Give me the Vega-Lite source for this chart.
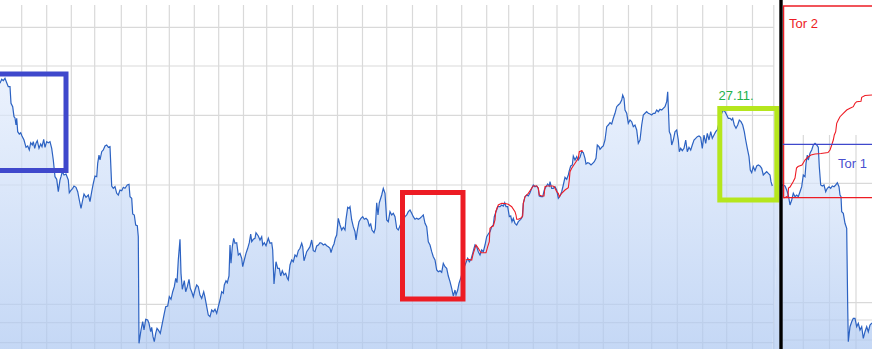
{
  "$schema": "https://vega.github.io/schema/vega-lite/v6.json",
  "width": 872,
  "height": 349,
  "autosize": "none",
  "padding": 0,
  "background": "white",
  "config": {"view": {"stroke": null}},
  "datasets": {
    "grid": [
      {"x":21.7,"x2":21.7,"y":0,"y2":344},{"x":46.7,"x2":46.7,"y":0,"y2":344},{"x":71.3,"x2":71.3,"y":0,"y2":344},{"x":94.7,"x2":94.7,"y":0,"y2":344},
      {"x":121.3,"x2":121.3,"y":0,"y2":344},{"x":146.5,"x2":146.5,"y":0,"y2":344},{"x":169.3,"x2":169.3,"y":0,"y2":344},{"x":194.3,"x2":194.3,"y":0,"y2":344},
      {"x":218.7,"x2":218.7,"y":0,"y2":344},{"x":243.5,"x2":243.5,"y":0,"y2":344},{"x":266.7,"x2":266.7,"y":0,"y2":344},{"x":292.5,"x2":292.5,"y":0,"y2":344},
      {"x":313.3,"x2":313.3,"y":0,"y2":344},{"x":337.5,"x2":337.5,"y":0,"y2":344},{"x":362.5,"x2":362.5,"y":0,"y2":344},{"x":386.7,"x2":386.7,"y":0,"y2":344},
      {"x":412.5,"x2":412.5,"y":0,"y2":344},{"x":436.7,"x2":436.7,"y":0,"y2":344},{"x":461.7,"x2":461.7,"y":0,"y2":344},{"x":486.7,"x2":486.7,"y":0,"y2":344},
      {"x":508.7,"x2":508.7,"y":0,"y2":344},{"x":533.3,"x2":533.3,"y":0,"y2":344},{"x":557,"x2":557,"y":0,"y2":344},{"x":579,"x2":579,"y":0,"y2":344},
      {"x":603.3,"x2":603.3,"y":0,"y2":344},{"x":628.5,"x2":628.5,"y":0,"y2":344},{"x":651.7,"x2":651.7,"y":0,"y2":344},{"x":677.3,"x2":677.3,"y":0,"y2":344},
      {"x":702.7,"x2":702.7,"y":0,"y2":344},{"x":726.7,"x2":726.7,"y":0,"y2":344},{"x":752.5,"x2":752.5,"y":0,"y2":344},{"x":773.8,"x2":773.8,"y":0,"y2":344},
      {"x":0,"x2":774,"y":321.7,"y2":321.7},{"x":0,"x2":774,"y":283,"y2":283},{"x":0,"x2":774,"y":233.7,"y2":233.7},{"x":0,"x2":774,"y":164,"y2":164},
      {"x":0,"x2":774,"y":44.7,"y2":44.7},{"x":0,"x2":774,"y":26.3,"y2":26.3},{"x":0,"x2":774,"y":6.3,"y2":6.3},
      {"x":803.3,"x2":803.3,"y":0,"y2":214},{"x":829.5,"x2":829.5,"y":0,"y2":214},{"x":856,"x2":856,"y":0,"y2":214},
      {"x":783,"x2":872,"y":165.7,"y2":165.7},{"x":783,"x2":872,"y":46.3,"y2":46.3},{"x":783,"x2":872,"y":29,"y2":29},{"x":783,"x2":872,"y":9,"y2":9}
    ],
    "px": [
      {"s":"a","t":0,"v":265.7},{"s":"a","t":1.7,"v":269.7},{"s":"a","t":3.3,"v":268.3},{"s":"a","t":5,"v":270.7},{"s":"a","t":6.7,"v":266.3},{"s":"a","t":8.3,"v":262.3},{"s":"a","t":10,"v":262.3},{"s":"a","t":11,"v":245.7},{"s":"a","t":12.7,"v":242.3},{"s":"a","t":14,"v":232.3},
      {"s":"a","t":15,"v":231},{"s":"a","t":16,"v":224},{"s":"a","t":16.7,"v":230.7},{"s":"a","t":17.7,"v":217.3},{"s":"a","t":19.3,"v":215},{"s":"a","t":20.7,"v":216.3},{"s":"a","t":22,"v":213},{"s":"a","t":24,"v":209},{"s":"a","t":26,"v":201.7},{"s":"a","t":27.7,"v":203},
      {"s":"a","t":29.3,"v":199},{"s":"a","t":30.7,"v":206.3},{"s":"a","t":32.3,"v":204},{"s":"a","t":33.3,"v":207.3},{"s":"a","t":34.7,"v":200.7},{"s":"a","t":36,"v":205.7},{"s":"a","t":37.3,"v":208.3},{"s":"a","t":39,"v":200.7},{"s":"a","t":40.7,"v":205},{"s":"a","t":42,"v":202.3},
      {"s":"a","t":43.7,"v":209.7},{"s":"a","t":45,"v":201.7},{"s":"a","t":46.7,"v":207.3},{"s":"a","t":48.3,"v":206.3},{"s":"a","t":50,"v":207.3},{"s":"a","t":51.7,"v":200.7},{"s":"a","t":53.3,"v":189},{"s":"a","t":55,"v":172.3},{"s":"a","t":56.7,"v":169.7},{"s":"a","t":58.3,"v":157.3},
      {"s":"a","t":60,"v":169},{"s":"a","t":61,"v":172.3},{"s":"a","t":62.3,"v":177.3},{"s":"a","t":64,"v":174},{"s":"a","t":66,"v":175},{"s":"a","t":68.3,"v":169},{"s":"a","t":69.3,"v":156.3},{"s":"a","t":70.7,"v":158.3},{"s":"a","t":72.7,"v":160.7},{"s":"a","t":74,"v":163},
      {"s":"a","t":76,"v":161.7},{"s":"a","t":77.7,"v":157.3},{"s":"a","t":79.3,"v":149},{"s":"a","t":81,"v":140.7},{"s":"a","t":82.7,"v":149},{"s":"a","t":84,"v":155},{"s":"a","t":86,"v":151.7},{"s":"a","t":88.3,"v":154},{"s":"a","t":90,"v":147.3},{"s":"a","t":91.7,"v":157.3},
      {"s":"a","t":93.3,"v":165.7},{"s":"a","t":95,"v":173},{"s":"a","t":96.7,"v":172.3},{"s":"a","t":97.7,"v":185.7},{"s":"a","t":99,"v":194},{"s":"a","t":100,"v":189},{"s":"a","t":101.7,"v":197.3},{"s":"a","t":103.3,"v":199},{"s":"a","t":105,"v":203},{"s":"a","t":106.7,"v":204},
      {"s":"a","t":108.3,"v":201.7},{"s":"a","t":110,"v":202.3},{"s":"a","t":111.7,"v":163},{"s":"a","t":113.3,"v":160.7},{"s":"a","t":115,"v":162.3},{"s":"a","t":116.7,"v":155.7},{"s":"a","t":118.3,"v":154},{"s":"a","t":120,"v":159},{"s":"a","t":121.7,"v":158.3},{"s":"a","t":123.3,"v":161.7},
      {"s":"a","t":125,"v":160.7},{"s":"a","t":127.3,"v":164},{"s":"a","t":129,"v":164.7},{"s":"a","t":130,"v":152.3},{"s":"a","t":131.7,"v":150.7},{"s":"a","t":132.7,"v":135},{"s":"a","t":134.3,"v":134},{"s":"a","t":135.7,"v":124},{"s":"a","t":137.3,"v":123.3},{"s":"a","t":138.3,"v":112.3},
      {"s":"a","t":139,"v":5.7},{"s":"a","t":141,"v":19},{"s":"a","t":142.7,"v":27.3},{"s":"a","t":144,"v":19},{"s":"a","t":145.7,"v":29.7},{"s":"a","t":147.7,"v":29},{"s":"a","t":149,"v":25.7},{"s":"a","t":150.7,"v":17.3},{"s":"a","t":151.7,"v":21.7},{"s":"a","t":153,"v":12.3},
      {"s":"a","t":154.3,"v":7.3},{"s":"a","t":155.7,"v":15.7},{"s":"a","t":157,"v":20.7},{"s":"a","t":158.7,"v":18.3},{"s":"a","t":160.3,"v":15.7},{"s":"a","t":162.3,"v":25.7},{"s":"a","t":164.3,"v":35.7},{"s":"a","t":165.7,"v":42.3},{"s":"a","t":167.7,"v":43},{"s":"a","t":169.3,"v":52.3},
      {"s":"a","t":171,"v":49.7},{"s":"a","t":172.7,"v":57.3},{"s":"a","t":174.3,"v":62.3},{"s":"a","t":175.7,"v":70.7},{"s":"a","t":177,"v":66.3},{"s":"a","t":178.3,"v":89},{"s":"a","t":180,"v":109.7},{"s":"a","t":181,"v":75.7},{"s":"a","t":182.3,"v":59.7},{"s":"a","t":184.3,"v":68.3},
      {"s":"a","t":185.7,"v":57.3},{"s":"a","t":187.3,"v":62.3},{"s":"a","t":189,"v":69.7},{"s":"a","t":190.3,"v":60.7},{"s":"a","t":191.7,"v":57.3},{"s":"a","t":193.3,"v":52.3},{"s":"a","t":195,"v":59},{"s":"a","t":196.7,"v":64},{"s":"a","t":198.3,"v":62.3},{"s":"a","t":200,"v":54},
      {"s":"a","t":201.7,"v":50.7},{"s":"a","t":203.7,"v":57.3},{"s":"a","t":205,"v":51.7},{"s":"a","t":206.7,"v":42.3},{"s":"a","t":208.3,"v":34},{"s":"a","t":210,"v":32.3},{"s":"a","t":211.7,"v":39},{"s":"a","t":213.3,"v":37.3},{"s":"a","t":215,"v":39.7},{"s":"a","t":216.7,"v":35.7},
      {"s":"a","t":218.3,"v":42.3},{"s":"a","t":220,"v":49},{"s":"a","t":221.7,"v":57.3},{"s":"a","t":223.3,"v":55.7},{"s":"a","t":224.3,"v":64},{"s":"a","t":226,"v":68.3},{"s":"a","t":227.3,"v":66.3},{"s":"a","t":229,"v":73},{"s":"a","t":230,"v":104},{"s":"a","t":231,"v":85.7},
      {"s":"a","t":232.3,"v":102.3},{"s":"a","t":233.7,"v":110.7},{"s":"a","t":235,"v":105.7},{"s":"a","t":236.7,"v":106.3},{"s":"a","t":238.3,"v":94},{"s":"a","t":240,"v":95.7},{"s":"a","t":241.7,"v":90.7},{"s":"a","t":242.7,"v":82.3},{"s":"a","t":244.3,"v":89},{"s":"a","t":246,"v":95.7},
      {"s":"a","t":247.7,"v":100.7},{"s":"a","t":249.3,"v":106.3},{"s":"a","t":250.7,"v":115},{"s":"a","t":251.7,"v":107.3},{"s":"a","t":253.3,"v":109.7},{"s":"a","t":255,"v":110.7},{"s":"a","t":256,"v":116.3},{"s":"a","t":258.3,"v":113},{"s":"a","t":260,"v":109},{"s":"a","t":261.7,"v":112.3},
      {"s":"a","t":262.7,"v":104},{"s":"a","t":264.3,"v":106.3},{"s":"a","t":266,"v":103.3},{"s":"a","t":268.3,"v":110.7},{"s":"a","t":270,"v":105.7},{"s":"a","t":271.7,"v":106.3},{"s":"a","t":272.7,"v":99},{"s":"a","t":274,"v":65},{"s":"a","t":276,"v":87.3},{"s":"a","t":277.7,"v":80.7},
      {"s":"a","t":279.3,"v":80.7},{"s":"a","t":280.7,"v":73},{"s":"a","t":282.3,"v":78.3},{"s":"a","t":284,"v":74},{"s":"a","t":285.7,"v":75.7},{"s":"a","t":287.3,"v":70.7},{"s":"a","t":288.3,"v":69},{"s":"a","t":290,"v":84},{"s":"a","t":291.7,"v":89},{"s":"a","t":293.3,"v":87.3},
      {"s":"a","t":295,"v":94},{"s":"a","t":296.7,"v":92.3},{"s":"a","t":298.3,"v":98.3},{"s":"a","t":300,"v":100.7},{"s":"a","t":301.7,"v":105.7},{"s":"a","t":302.7,"v":102.3},{"s":"a","t":304,"v":88.3},{"s":"a","t":305.3,"v":92.3},{"s":"a","t":306.7,"v":97.3},{"s":"a","t":308.3,"v":99.7},
      {"s":"a","t":310,"v":102.3},{"s":"a","t":311.7,"v":109},{"s":"a","t":313.3,"v":98.3},{"s":"a","t":315,"v":97.3},{"s":"a","t":316.7,"v":103},{"s":"a","t":318.3,"v":104},{"s":"a","t":320,"v":106.3},{"s":"a","t":321.7,"v":105.7},{"s":"a","t":323.3,"v":104},{"s":"a","t":325,"v":105},
      {"s":"a","t":326.7,"v":103.3},{"s":"a","t":328.3,"v":102.3},{"s":"a","t":330,"v":100.7},{"s":"a","t":331,"v":96.3},{"s":"a","t":332.7,"v":102.3},{"s":"a","t":334,"v":105},{"s":"a","t":335.3,"v":110.7},{"s":"a","t":336.7,"v":114},{"s":"a","t":338.3,"v":130.7},{"s":"a","t":340,"v":124},
      {"s":"a","t":341.7,"v":119},{"s":"a","t":343.3,"v":121.7},{"s":"a","t":345,"v":119},{"s":"a","t":346,"v":129.7},{"s":"a","t":347.7,"v":141.7},{"s":"a","t":349,"v":140.7},{"s":"a","t":350,"v":142.3},{"s":"a","t":351.7,"v":129},{"s":"a","t":353.3,"v":122.3},{"s":"a","t":355,"v":117.3},
      {"s":"a","t":356,"v":109},{"s":"a","t":357.3,"v":118.3},{"s":"a","t":359,"v":127.3},{"s":"a","t":361,"v":130.7},{"s":"a","t":362.7,"v":132.3},{"s":"a","t":364.3,"v":129.7},{"s":"a","t":366,"v":130.7},{"s":"a","t":367.7,"v":129},{"s":"a","t":369.3,"v":123},{"s":"a","t":370.7,"v":125},
      {"s":"a","t":372,"v":119},{"s":"a","t":374,"v":116.3},{"s":"a","t":375.3,"v":120.7},{"s":"a","t":376.7,"v":146.3},{"s":"a","t":378,"v":134},{"s":"a","t":379.3,"v":146.3},{"s":"a","t":381.7,"v":154},{"s":"a","t":383.3,"v":160.7},{"s":"a","t":385,"v":155.7},{"s":"a","t":386.7,"v":129},
      {"s":"a","t":388.3,"v":127.3},{"s":"a","t":390,"v":137.3},{"s":"a","t":391.7,"v":134},{"s":"a","t":393.3,"v":135.7},{"s":"a","t":395,"v":132.3},{"s":"a","t":396.7,"v":120.7},{"s":"a","t":398.3,"v":119},{"s":"a","t":401.5,"v":127},{"s":"a","t":405,"v":132.3},{"s":"a","t":406.7,"v":134},
      {"s":"a","t":408.3,"v":137.3},{"s":"a","t":410,"v":139},{"s":"a","t":411.7,"v":135.7},{"s":"a","t":413.3,"v":132.3},{"s":"a","t":415,"v":129.7},{"s":"a","t":416.7,"v":130.7},{"s":"a","t":418.3,"v":129.7},{"s":"a","t":420,"v":130.7},{"s":"a","t":421.7,"v":132.3},{"s":"a","t":423.3,"v":134},
      {"s":"a","t":425,"v":125.7},{"s":"a","t":426.7,"v":122.3},{"s":"a","t":428.3,"v":107.3},{"s":"a","t":430,"v":104},{"s":"a","t":431.7,"v":97.3},{"s":"a","t":433.3,"v":92.3},{"s":"a","t":435,"v":89},{"s":"a","t":436.7,"v":79},{"s":"a","t":438.3,"v":77.3},{"s":"a","t":440,"v":78.3},
      {"s":"a","t":441.7,"v":76.7},{"s":"a","t":443.3,"v":85.7},{"s":"a","t":445,"v":82.3},{"s":"a","t":446.7,"v":80.7},{"s":"a","t":448.3,"v":73},{"s":"a","t":450,"v":67.3},{"s":"a","t":451.7,"v":60.7},{"s":"a","t":453.3,"v":53},{"s":"a","t":455,"v":59},{"s":"a","t":456,"v":54},
      {"s":"a","t":457.7,"v":59},{"s":"a","t":459,"v":65.7},{"s":"a","t":460.7,"v":70.7},{"s":"a","t":463,"v":79},{"s":"a","t":465.7,"v":85.7},{"s":"a","t":467.7,"v":90.7},{"s":"a","t":469.3,"v":87.3},{"s":"a","t":471,"v":89.7},{"s":"a","t":472.7,"v":95.7},{"s":"a","t":474,"v":100.7},
      {"s":"a","t":475,"v":104},{"s":"a","t":476.7,"v":102.3},{"s":"a","t":478.3,"v":97.3},{"s":"a","t":480,"v":94},{"s":"a","t":481.7,"v":99},{"s":"a","t":483.3,"v":97.3},{"s":"a","t":485,"v":104},{"s":"a","t":486.7,"v":112.3},{"s":"a","t":488.3,"v":115},{"s":"a","t":490,"v":117.3},
      {"s":"a","t":491.7,"v":122.3},{"s":"a","t":493.3,"v":124},{"s":"a","t":494.3,"v":132.3},{"s":"a","t":496,"v":137.3},{"s":"a","t":497.7,"v":142.3},{"s":"a","t":500,"v":142.3},{"s":"a","t":501.7,"v":144},{"s":"a","t":503.3,"v":143},{"s":"a","t":504.7,"v":146.3},{"s":"a","t":506,"v":142.3},
      {"s":"a","t":507.7,"v":142.3},{"s":"a","t":509.3,"v":132.3},{"s":"a","t":510.7,"v":133},{"s":"a","t":512,"v":127.3},{"s":"a","t":513.3,"v":130.7},{"s":"a","t":515,"v":125.7},{"s":"a","t":516.7,"v":124},{"s":"a","t":518.3,"v":127.3},{"s":"a","t":520.7,"v":129.7},{"s":"a","t":522.3,"v":132.3},
      {"s":"a","t":523.3,"v":145.7},{"s":"a","t":525,"v":152.3},{"s":"a","t":526.7,"v":154},{"s":"a","t":528.3,"v":153},{"s":"a","t":530,"v":156.3},{"s":"a","t":531.7,"v":160.7},{"s":"a","t":533.3,"v":164},{"s":"a","t":535,"v":162.3},{"s":"a","t":536.7,"v":163},{"s":"a","t":538.3,"v":160.7},
      {"s":"a","t":539.3,"v":153},{"s":"a","t":541,"v":152.3},{"s":"a","t":542.7,"v":152.3},{"s":"a","t":544.3,"v":159},{"s":"a","t":546,"v":162.3},{"s":"a","t":547.7,"v":165},{"s":"a","t":549.3,"v":163},{"s":"a","t":550,"v":167.3},{"s":"a","t":551.7,"v":160.7},{"s":"a","t":553.3,"v":160.7},
      {"s":"a","t":555,"v":162.3},{"s":"a","t":556.7,"v":159},{"s":"a","t":558.3,"v":150.7},{"s":"a","t":560,"v":153},{"s":"a","t":561.7,"v":157.3},{"s":"a","t":563.3,"v":164},{"s":"a","t":565,"v":171.7},{"s":"a","t":566.7,"v":169.7},{"s":"a","t":568.3,"v":174},{"s":"a","t":569.3,"v":178.3},
      {"s":"a","t":570.7,"v":183},{"s":"a","t":572.3,"v":184},{"s":"a","t":573.3,"v":193},{"s":"a","t":575,"v":189},{"s":"a","t":576.7,"v":192.3},{"s":"a","t":578.3,"v":189},{"s":"a","t":580,"v":191.7},{"s":"a","t":581.7,"v":197.3},{"s":"a","t":583.3,"v":196.3},{"s":"a","t":585,"v":190.7},
      {"s":"a","t":586,"v":185},{"s":"a","t":587.7,"v":186.3},{"s":"a","t":589.3,"v":185.7},{"s":"a","t":591,"v":184},{"s":"a","t":592.7,"v":185.7},{"s":"a","t":594.3,"v":187.3},{"s":"a","t":596,"v":190.7},{"s":"a","t":597.3,"v":204},{"s":"a","t":599,"v":202.3},{"s":"a","t":600,"v":199.7},
      {"s":"a","t":601.7,"v":201.7},{"s":"a","t":603.3,"v":203},{"s":"a","t":605,"v":209},{"s":"a","t":606.7,"v":222.3},{"s":"a","t":608.3,"v":224},{"s":"a","t":610,"v":226.3},{"s":"a","t":611.7,"v":225},{"s":"a","t":613.3,"v":230.7},{"s":"a","t":615,"v":235.7},{"s":"a","t":616.7,"v":242.3},
      {"s":"a","t":618.3,"v":244},{"s":"a","t":620,"v":245.7},{"s":"a","t":621.7,"v":249},{"s":"a","t":622.7,"v":254},{"s":"a","t":624,"v":250.7},{"s":"a","t":625,"v":239},{"s":"a","t":626.7,"v":235.7},{"s":"a","t":628.3,"v":225.7},{"s":"a","t":630,"v":229},{"s":"a","t":631.7,"v":227.3},
      {"s":"a","t":633.3,"v":222.3},{"s":"a","t":635,"v":224},{"s":"a","t":636.7,"v":219},{"s":"a","t":638.3,"v":205.7},{"s":"a","t":640,"v":209},{"s":"a","t":641.7,"v":224},{"s":"a","t":643.3,"v":234},{"s":"a","t":645,"v":235.7},{"s":"a","t":646.7,"v":237.3},{"s":"a","t":648.3,"v":235.7},
      {"s":"a","t":650,"v":235},{"s":"a","t":651.7,"v":234},{"s":"a","t":653.3,"v":235.7},{"s":"a","t":655,"v":235.7},{"s":"a","t":656.7,"v":239},{"s":"a","t":658.3,"v":237.3},{"s":"a","t":660,"v":239.7},{"s":"a","t":661.7,"v":239},{"s":"a","t":663.3,"v":240.7},{"s":"a","t":665,"v":242.3},
      {"s":"a","t":666.7,"v":247.3},{"s":"a","t":667.7,"v":257.3},{"s":"a","t":668.3,"v":242.3},{"s":"a","t":669.3,"v":217.3},{"s":"a","t":670.7,"v":214},{"s":"a","t":671.7,"v":204},{"s":"a","t":673.3,"v":209},{"s":"a","t":675,"v":217.3},{"s":"a","t":676.7,"v":219},{"s":"a","t":678.3,"v":209},
      {"s":"a","t":679.3,"v":197.3},{"s":"a","t":680.7,"v":200.7},{"s":"a","t":682.3,"v":198.3},{"s":"a","t":684,"v":200.7},{"s":"a","t":685.7,"v":209},{"s":"a","t":687.3,"v":197.3},{"s":"a","t":689,"v":201.7},{"s":"a","t":690.7,"v":199},{"s":"a","t":692.3,"v":204},{"s":"a","t":694,"v":209},
      {"s":"a","t":695.7,"v":210.7},{"s":"a","t":697.3,"v":212.3},{"s":"a","t":699,"v":213},{"s":"a","t":700.7,"v":211.7},{"s":"a","t":702.3,"v":200.7},{"s":"a","t":704,"v":214},{"s":"a","t":705.7,"v":205.7},{"s":"a","t":707.3,"v":215.7},{"s":"a","t":709,"v":209},{"s":"a","t":710.7,"v":217.3},
      {"s":"a","t":712.3,"v":210.7},{"s":"a","t":714,"v":214},{"s":"a","t":715.7,"v":217.3},{"s":"a","t":717.3,"v":219},{"s":"a","t":719.5,"v":228},{"s":"a","t":721.7,"v":235.7},{"s":"a","t":723.3,"v":239},{"s":"a","t":725,"v":237.3},{"s":"a","t":726.7,"v":234},{"s":"a","t":728.3,"v":230.7},
      {"s":"a","t":730,"v":230.7},{"s":"a","t":731.7,"v":229},{"s":"a","t":732.7,"v":230.7},{"s":"a","t":734.3,"v":224},{"s":"a","t":736,"v":220.7},{"s":"a","t":737.7,"v":224},{"s":"a","t":739.3,"v":229},{"s":"a","t":741,"v":227.3},{"s":"a","t":742.7,"v":224},{"s":"a","t":744.3,"v":217.3},
      {"s":"a","t":745.7,"v":209},{"s":"a","t":747.3,"v":200.7},{"s":"a","t":749,"v":192.3},{"s":"a","t":750.3,"v":179},{"s":"a","t":751.7,"v":176.3},{"s":"a","t":753.3,"v":182.3},{"s":"a","t":755,"v":178.3},{"s":"a","t":756.7,"v":183},{"s":"a","t":758.3,"v":184},{"s":"a","t":760,"v":183},
      {"s":"a","t":761.7,"v":180.7},{"s":"a","t":763.3,"v":174},{"s":"a","t":765,"v":175.7},{"s":"a","t":766.7,"v":177.3},{"s":"a","t":768.3,"v":175.7},{"s":"a","t":770,"v":174},{"s":"a","t":771,"v":167.3},{"s":"a","t":772.3,"v":163},
      {"s":"b","t":780,"v":164},{"s":"b","t":783.3,"v":164},{"s":"b","t":785,"v":163},{"s":"b","t":786.7,"v":159},{"s":"b","t":788.3,"v":154},{"s":"b","t":790,"v":144},{"s":"b","t":791.7,"v":149},{"s":"b","t":793.3,"v":155.7},{"s":"b","t":795,"v":152.3},{"s":"b","t":796.7,"v":154},
      {"s":"b","t":798.3,"v":152.3},{"s":"b","t":800,"v":157.3},{"s":"b","t":801.7,"v":162.3},{"s":"b","t":803.3,"v":174},{"s":"b","t":805,"v":172.3},{"s":"b","t":806,"v":185.7},{"s":"b","t":807.3,"v":194},{"s":"b","t":808.3,"v":189},{"s":"b","t":810,"v":195.7},{"s":"b","t":811.7,"v":199},
      {"s":"b","t":813.3,"v":204},{"s":"b","t":815,"v":205.7},{"s":"b","t":816.7,"v":204},{"s":"b","t":818.3,"v":201.7},{"s":"b","t":819.3,"v":182.3},{"s":"b","t":820.7,"v":164},{"s":"b","t":822.3,"v":163},{"s":"b","t":824,"v":164},{"s":"b","t":825.7,"v":157.3},{"s":"b","t":827.3,"v":160.7},
      {"s":"b","t":829,"v":162.3},{"s":"b","t":830.7,"v":160.7},{"s":"b","t":832.3,"v":163},{"s":"b","t":834,"v":162.3},{"s":"b","t":835.7,"v":164},{"s":"b","t":837.3,"v":166.3},{"s":"b","t":839,"v":162.3},{"s":"b","t":840,"v":154},{"s":"b","t":841,"v":152.3},{"s":"b","t":841.7,"v":137.3},
      {"s":"b","t":843.3,"v":135.7},{"s":"b","t":845,"v":125.7},{"s":"b","t":846.7,"v":120.7},{"s":"b","t":847.7,"v":42.3},{"s":"b","t":848.3,"v":7.3},{"s":"b","t":850,"v":22.3},{"s":"b","t":851.7,"v":27.3},{"s":"b","t":853.3,"v":30.7},{"s":"b","t":855,"v":30.7},{"s":"b","t":856.7,"v":22.3},
      {"s":"b","t":858.3,"v":25.7},{"s":"b","t":860,"v":19},{"s":"b","t":861.7,"v":22.3},{"s":"b","t":863.3,"v":10.7},{"s":"b","t":865,"v":17.3},{"s":"b","t":866.7,"v":22.3},{"s":"b","t":868.3,"v":17.3},{"s":"b","t":870,"v":24},{"s":"b","t":872,"v":26}
    ],
    "ma": [
      {"s":"m1","t":465.7,"v":89},{"s":"m1","t":468.3,"v":89.7},{"s":"m1","t":471.7,"v":89},{"s":"m1","t":473.3,"v":95.7},{"s":"m1","t":476,"v":104},{"s":"m1","t":478.3,"v":100.7},{"s":"m1","t":481,"v":96.3},{"s":"m1","t":486,"v":96.3},{"s":"m1","t":487.7,"v":102.3},{"s":"m1","t":489.3,"v":107.3},
      {"s":"m1","t":490,"v":120.7},{"s":"m1","t":491.7,"v":122.3},{"s":"m1","t":493.3,"v":123},{"s":"m1","t":495,"v":129},{"s":"m1","t":495.7,"v":137.3},{"s":"m1","t":498.3,"v":144},{"s":"m1","t":501.7,"v":145.7},{"s":"m1","t":505,"v":145.5},{"s":"m1","t":508.3,"v":144.7},{"s":"m1","t":511.7,"v":142.3},
      {"s":"m1","t":515,"v":137.3},{"s":"m1","t":516,"v":134},{"s":"m1","t":516.7,"v":129.7},{"s":"m1","t":518.3,"v":129.7},{"s":"m1","t":520.7,"v":130.7},{"s":"m1","t":522.7,"v":133},{"s":"m1","t":523.3,"v":145.7},{"s":"m1","t":525,"v":152.3},{"s":"m1","t":528.3,"v":155.7},{"s":"m1","t":531.7,"v":160.7},
      {"s":"m1","t":533.3,"v":163},{"s":"m1","t":536.7,"v":163},{"s":"m1","t":538.3,"v":160.7},{"s":"m1","t":539.3,"v":154},{"s":"m1","t":541.7,"v":153},{"s":"m1","t":544,"v":153},{"s":"m1","t":545,"v":162.3},{"s":"m1","t":546.7,"v":163},{"s":"m1","t":550,"v":163},{"s":"m1","t":552.7,"v":163},
      {"s":"m1","t":554.3,"v":162.3},{"s":"m1","t":556.7,"v":157.3},{"s":"m1","t":558.3,"v":155.7},{"s":"m1","t":559.3,"v":152.3},{"s":"m1","t":561.7,"v":155.7},{"s":"m1","t":565,"v":159},{"s":"m1","t":568.3,"v":161.3},{"s":"m1","t":569.3,"v":169},{"s":"m1","t":570,"v":177.3},{"s":"m1","t":571.7,"v":180.7},
      {"s":"m1","t":575,"v":185.7},{"s":"m1","t":578.3,"v":190.7},{"s":"m1","t":579.3,"v":197.3},{"s":"m1","t":581.7,"v":198.3},{"s":"m1","t":583,"v":197.5},
      {"s":"m2","t":783.5,"v":151},{"s":"m2","t":786,"v":152},{"s":"m2","t":788,"v":153},{"s":"m2","t":788.5,"v":161},{"s":"m2","t":790,"v":162},{"s":"m2","t":793,"v":167},{"s":"m2","t":795,"v":171},{"s":"m2","t":796.5,"v":181},{"s":"m2","t":798,"v":182.5},{"s":"m2","t":802,"v":184},
      {"s":"m2","t":805,"v":189},{"s":"m2","t":808,"v":192},{"s":"m2","t":811,"v":194},{"s":"m2","t":815,"v":195},{"s":"m2","t":821,"v":195.5},{"s":"m2","t":828,"v":196.5},{"s":"m2","t":830,"v":199},{"s":"m2","t":831.7,"v":204},{"s":"m2","t":833.3,"v":209},{"s":"m2","t":834.3,"v":214},
      {"s":"m2","t":835.7,"v":217.3},{"s":"m2","t":836.7,"v":225.7},{"s":"m2","t":838.3,"v":229},{"s":"m2","t":840,"v":232.3},{"s":"m2","t":843.3,"v":235.7},{"s":"m2","t":846.7,"v":239},{"s":"m2","t":850,"v":240.7},{"s":"m2","t":853.3,"v":242.3},{"s":"m2","t":855,"v":245.7},{"s":"m2","t":856.7,"v":247.3},
      {"s":"m2","t":861,"v":247.7},{"s":"m2","t":861.7,"v":251.7},{"s":"m2","t":865,"v":253.5},{"s":"m2","t":872,"v":254}
    ],
    "boxes": [
      {"x":-10,"x2":66,"y":275,"y2":178.5,"c":"#3f48cc"},
      {"x":402.5,"x2":463,"y":156.5,"y2":50,"c":"#ed1c24"},
      {"x":719.8,"x2":776.8,"y":240.5,"y2":149,"c":"#b5e61d"}
    ],
    "zones": [
      {"x":783.6,"x2":885,"y":343,"y2":151.3,"c":"#ed1c24"}
    ],
    "levels": [
      {"x":783,"x2":872,"y":204.6,"y2":204.6,"c":"#3f48cc","w":1.2},
      {"x":781,"x2":781,"y":0,"y2":349,"c":"#000000","w":3.4}
    ],
    "labels": [
      {"t":789,"v":320.7,"text":"Tor 2","c":"#ed1c24"},
      {"t":838,"v":181,"text":"Tor 1","c":"#4a4fd0"},
      {"t":718.5,"v":249.5,"text":"27.11.","c":"#22b14c"}
    ]
  },
  "layer": [
    {
      "data": {"name": "grid"},
      "mark": {"type": "rule", "color": "#d9d9d9", "strokeWidth": 1.2},
      "encoding": {
        "x": {"field": "x", "type": "quantitative", "scale": {"domain": [0, 872], "nice": false, "zero": false}, "axis": null},
        "x2": {"field": "x2"},
        "y": {"field": "y", "type": "quantitative", "scale": {"domain": [0, 349], "nice": false}, "axis": null},
        "y2": {"field": "y2"}
      }
    },
    {
      "data": {"name": "px"},
      "mark": {
        "type": "area",
        "fillOpacity": 0.7,
        "fill": {"gradient": "linear", "x1": 0, "y1": 0, "x2": 0, "y2": 1,
          "stops": [{"offset": 0, "color": "#e2ecfc"}, {"offset": 1, "color": "#acc7f1"}]}
      },
      "encoding": {
        "x": {"field": "t", "type": "quantitative", "scale": {"domain": [0, 872], "nice": false, "zero": false}, "axis": null},
        "y": {"field": "v", "type": "quantitative", "scale": {"domain": [0, 349], "nice": false}, "axis": null},
        "detail": {"field": "s"}
      }
    },
    {
      "data": {"name": "px"},
      "mark": {"type": "line", "color": "#2c62c2", "strokeWidth": 1.2},
      "encoding": {
        "x": {"field": "t", "type": "quantitative", "axis": null},
        "y": {"field": "v", "type": "quantitative", "axis": null},
        "detail": {"field": "s"}
      }
    },
    {
      "data": {"name": "ma"},
      "mark": {"type": "line", "color": "#ee1c25", "strokeWidth": 1.1},
      "encoding": {
        "x": {"field": "t", "type": "quantitative", "axis": null},
        "y": {"field": "v", "type": "quantitative", "axis": null},
        "detail": {"field": "s"}
      }
    },
    {
      "data": {"name": "zones"},
      "mark": {"type": "rect", "fillOpacity": 0, "fill": "white", "strokeWidth": 1.3},
      "encoding": {
        "x": {"field": "x", "type": "quantitative", "axis": null},
        "x2": {"field": "x2"},
        "y": {"field": "y", "type": "quantitative", "axis": null},
        "y2": {"field": "y2"},
        "stroke": {"field": "c", "type": "nominal", "scale": null}
      }
    },
    {
      "data": {"name": "boxes"},
      "mark": {"type": "rect", "fillOpacity": 0, "fill": "white", "strokeWidth": 5},
      "encoding": {
        "x": {"field": "x", "type": "quantitative", "axis": null},
        "x2": {"field": "x2"},
        "y": {"field": "y", "type": "quantitative", "axis": null},
        "y2": {"field": "y2"},
        "stroke": {"field": "c", "type": "nominal", "scale": null}
      }
    },
    {
      "data": {"name": "levels"},
      "mark": {"type": "rule"},
      "encoding": {
        "x": {"field": "x", "type": "quantitative", "axis": null},
        "x2": {"field": "x2"},
        "y": {"field": "y", "type": "quantitative", "axis": null},
        "y2": {"field": "y2"},
        "color": {"field": "c", "type": "nominal", "scale": null},
        "strokeWidth": {"field": "w", "type": "quantitative", "scale": null}
      }
    },
    {
      "data": {"name": "labels"},
      "mark": {"type": "text", "align": "left", "baseline": "alphabetic", "font": "Liberation Sans", "fontSize": 13},
      "encoding": {
        "x": {"field": "t", "type": "quantitative", "axis": null},
        "y": {"field": "v", "type": "quantitative", "axis": null},
        "text": {"field": "text"},
        "color": {"field": "c", "type": "nominal", "scale": null}
      }
    }
  ]
}
